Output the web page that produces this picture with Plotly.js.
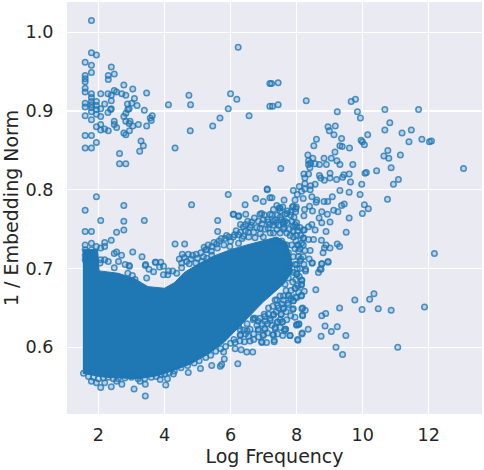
<!DOCTYPE html>
<html><head><meta charset="utf-8">
<script src="https://cdn.plot.ly/plotly-3.0.1.min.js"></script>
<style>html,body{margin:0;padding:0;background:#fff}</style></head>
<body><div id="chart" style="width:484px;height:470px"></div>
<script>
// Values. [log frequency, 1/embedding norm]
const topLeft = [[1.79,1.015],[1.79,.974],[1.94,.971],[1.60,.962],[1.79,.958],[2.39,.956],[1.79,.949],[2.30,.945],[2.48,.947],[2.30,.940],[1.60,.945],[1.60,.941],[1.60,.937],[1.60,.929],[1.60,.924],[1.79,.922],[1.79,.917],[2.07,.922],[2.29,.922],[2.39,.920],[2.48,.926],[2.55,.924],[2.71,.922],[2.83,.920],[2.77,.933],[3.04,.928],[3.46,.923],[3.09,.916],[2.39,.913],[3.01,.910],[2.88,.909],[3.17,.907],[2.93,.903],[2.89,.902],[3.39,.901],[2.83,.897],[2.77,.893],[2.83,.887],[2.96,.887],[2.93,.884],[3.04,.881],[3.21,.883],[3.46,.881],[3.63,.894],[3.57,.891],[3.60,.888],[1.60,.910],[1.60,.905],[1.79,.912],[1.79,.908],[1.79,.904],[1.79,.899],[1.94,.912],[1.94,.907],[1.94,.902],[1.94,.896],[2.07,.903],[2.19,.909],[2.39,.903],[2.37,.902],[2.29,.898],[2.07,.893],[1.60,.894],[1.79,.889],[1.94,.880],[2.07,.883],[2.07,.876],[2.19,.877],[2.30,.875],[2.48,.887],[2.48,.883],[2.55,.879],[2.77,.872],[2.83,.870],[2.94,.875],[1.60,.869],[1.79,.869],[1.94,.860],[1.60,.853],[1.79,.853],[3.29,.862],[3.36,.856],[3.25,.849],[2.64,.846],[2.64,.833],[2.83,.833]];
const topMiddle = [[6.23,.981],[4.12,.908],[4.74,.920],[4.79,.908],[4.78,.875],[4.32,.853],[5.46,.881],[5.68,.891],[5.93,.903],[6.00,.922],[6.19,.915],[6.56,.894],[7.19,.935],[7.19,.906],[5.93,.794],[6.44,.781],[6.76,.789],[6.99,.785],[7.11,.801],[7.19,.790],[4.82,.781],[2.77,.780],[1.94,.791],[1.60,.774]];
const upperRight = [[7.24,.935],[7.44,.936],[7.27,.906],[7.44,.908],[8.29,.913],[9.65,.912],[9.78,.915],[9.23,.899],[9.84,.899],[10.67,.902],[11.69,.902],[9.93,.891],[10.82,.885],[8.95,.880],[9.17,.881],[8.99,.875],[9.13,.870],[10.67,.876],[10.15,.870],[11.19,.872],[11.47,.876],[8.60,.864],[9.36,.865],[9.95,.863],[9.99,.861],[10.05,.857],[11.40,.861],[11.79,.864],[12.02,.861],[12.08,.862],[8.52,.856],[9.31,.856],[9.38,.855],[9.60,.853],[9.16,.848],[10.76,.850],[10.64,.843],[10.79,.840],[11.14,.844],[8.34,.844],[8.49,.840],[8.83,.840],[9.05,.840],[9.22,.837],[9.31,.832],[8.36,.837],[8.42,.834],[8.36,.832],[8.56,.833],[8.69,.832],[8.90,.832],[9.70,.832],[8.40,.828],[7.52,.827],[10.86,.828],[13.05,.827],[10.42,.824],[10.07,.821],[10.11,.822],[8.22,.820],[8.36,.820],[8.69,.818],[8.73,.815],[8.84,.812],[9.01,.821],[9.01,.815],[9.21,.813],[9.39,.816],[9.43,.819],[9.59,.820],[9.63,.810],[11.08,.813],[10.93,.807],[9.97,.807],[8.25,.815],[8.25,.808],[8.56,.807],[8.42,.805],[8.08,.804],[7.90,.799],[8.25,.801],[8.41,.800],[8.15,.798],[8.02,.794],[9.31,.799],[9.59,.797],[9.92,.794],[8.46,.791],[7.25,.790],[7.62,.787],[7.95,.787],[8.20,.789],[8.61,.787],[9.08,.791],[10.75,.788],[8.83,.785],[8.94,.785],[8.59,.784],[9.44,.782],[9.36,.780],[10.05,.781],[10.17,.776],[9.12,.774],[9.25,.772],[9.99,.770],[9.59,.764],[7.40,.780],[7.50,.777],[7.87,.778],[7.99,.778],[8.39,.779],[8.24,.775],[8.48,.773],[8.76,.772],[8.93,.769],[8.22,.767],[8.68,.764],[9.01,.759],[8.76,.758],[9.50,.746],[8.89,.747],[8.56,.749],[8.46,.756],[8.36,.753],[8.23,.749],[8.00,.758],[7.70,.770],[7.60,.759],[7.90,.753],[8.75,.736],[8.51,.737],[8.36,.737],[8.21,.739],[8.03,.730],[8.20,.730],[8.89,.730],[9.23,.731],[9.30,.728],[9.01,.726],[8.84,.726],[8.41,.723],[8.25,.723],[8.80,.720],[12.17,.719],[8.38,.712],[8.47,.707],[8.20,.715],[8.95,.709],[8.76,.706],[8.10,.710],[8.27,.699],[8.71,.699]];
const lowerRight = [[10.34,.668],[10.21,.661],[9.76,.660],[9.30,.650],[9.98,.648],[10.47,.649],[10.86,.647],[11.87,.651],[8.88,.643],[8.76,.640],[8.58,.673],[8.26,.647],[8.16,.649],[8.18,.640],[8.35,.623],[8.06,.629],[8.00,.628],[8.86,.627],[9.23,.626],[9.05,.620],[8.74,.614],[9.49,.615],[8.16,.617],[8.04,.609],[9.19,.600],[9.39,.591],[11.06,.600],[7.80,.615],[7.32,.607],[6.95,.606],[7.28,.616],[7.67,.623],[7.63,.621],[7.50,.625],[7.35,.624],[7.42,.632],[7.56,.632],[7.88,.648],[7.75,.654],[7.60,.649],[7.45,.650],[7.53,.642],[7.30,.641],[7.20,.637],[7.90,.659],[8.00,.663],[8.14,.665],[8.23,.671],[7.96,.675],[8.14,.679],[8.16,.685],[7.97,.686],[8.01,.693],[8.27,.697],[8.66,.695],[8.74,.699],[8.76,.706],[8.95,.708],[8.47,.707],[7.77,.665],[7.35,.660],[7.04,.624],[6.99,.615],[6.84,.622],[6.69,.635],[7.04,.639],[6.89,.637],[7.60,.660],[8.0,.693],[8.15,.685],[8.15,.680],[7.95,.675],[8.15,.666],[7.97,.664],[7.75,.666],[7.9,.659],[7.73,.656],[7.43,.653],[7.9,.649],[7.6,.650],[7.3,.642],[7.15,.642],[7.02,.642],[7.53,.642],[8.18,.650],[8.18,.641],[7.42,.632],[7.57,.632],[7.2,.634],[7.04,.633],[6.84,.633],[6.69,.637],[8.0,.629],[8.07,.630],[7.35,.625],[7.65,.623],[6.84,.623],[7.04,.623],[6.59,.623],[6.29,.623],[6.24,.627],[6.99,.616],[7.3,.616],[7.8,.615],[8.17,.618],[6.54,.614],[6.29,.616],[6.94,.607],[7.32,.609],[8.03,.610],[6.14,.606],[6.42,.607],[6.59,.608],[6.74,.637],[7.75,.688],[7.65,.680],[7.8,.697],[8.0,.705],[7.57,.688]];
const upperRim = [[1.60,.747],[1.79,.747],[2.07,.761],[2.77,.760],[3.39,.761],[5.61,.761],[5.61,.747],[6.08,.769],[6.25,.767],[6.46,.769],[6.89,.769],[2.55,.746],[2.77,.749],[2.39,.736],[2.19,.733],[4.32,.731],[4.61,.731],[3.04,.721],[3.32,.715],[2.48,.719],[2.55,.721],[2.70,.717],[2.61,.709],[2.81,.705],[2.94,.703],[3.42,.704],[3.72,.708],[3.89,.708],[2.48,.701],[7.11,.800],[7.47,.777],[7.90,.779],[7.97,.776],[6.09,.769],[6.24,.766],[6.94,.770],[7.20,.769],[7.72,.773],[7.65,.769],[7.97,.772],[7.35,.762],[7.50,.765],[6.84,.760],[6.64,.759],[6.46,.756],[6.39,.753],[6.99,.762],[7.30,.760],[7.14,.759],[7.60,.757],[7.95,.756],[6.89,.751],[7.14,.751],[6.59,.752],[6.24,.743],[6.12,.743],[5.95,.740],[5.83,.738],[5.65,.735],[5.58,.731],[6.54,.746],[6.99,.740],[6.39,.741],[6.74,.739],[8.0,.753],[8.2,.749],[8.2,.738],[8.05,.730],[5.28,.724],[5.43,.728],[5.98,.728],[6.24,.732],[4.54,.718],[4.72,.718],[4.96,.718],[5.25,.724],[5.18,.715],[2.93,.704],[3.43,.705],[3.74,.708],[4.52,.707],[4.67,.709],[5.43,.717],[4.8,.712],[3.97,.703],[3.85,.702],[3.53,.699],[4.12,.697],[4.25,.697],[4.37,.694],[3.97,.692],[4.52,.701],[3.46,.688],[3.67,.696],[3.03,.691],[2.89,.694],[3.11,.686],[4.10,.692],[4.95,.707],[5.13,.709],[5.28,.713],[1.60,.730],[1.79,.732],[1.94,.728],[2.07,.726],[2.19,.728],[2.07,.711],[2.19,.711],[2.30,.709],[2.05,.707],[1.60,.724],[1.79,.724],[1.60,.717],[1.79,.715],[1.60,.711],[7.3,.745],[7.4,.750],[7.5,.745],[7.6,.750],[7.7,.745],[7.8,.742],[7.9,.740],[8.0,.742],[7.35,.735],[7.55,.735],[7.7,.730],[7.85,.730],[7.95,.725],[8.1,.725],[7.75,.720],[7.9,.715],[8.05,.715],[7.8,.705],[7.95,.705],[8.1,.700],[7.45,.755],[7.65,.760],[7.3,.755],[7.85,.760]];
const midBand = [[4.45,.712],[4.6,.714],[4.75,.706],[4.85,.717],[5.0,.713],[5.1,.72],[5.2,.727],[5.32,.73],[5.42,.722],[5.5,.733],[5.6,.726],[5.72,.738],[5.8,.73],[5.88,.742],[6.0,.735],[6.08,.74],[6.17,.748],[6.3,.746],[6.35,.738],[6.45,.748],[6.55,.74],[6.62,.755],[6.7,.746],[6.8,.752],[6.9,.744],[6.95,.757],[7.05,.75],[7.12,.762],[7.2,.745],[7.25,.768],[7.38,.758],[7.42,.768],[7.55,.762],[7.62,.752],[7.72,.758],[7.78,.75],[7.82,.768],[7.9,.748],[7.98,.735],[8.03,.748],[8.12,.742],[8.15,.732],[8.1,.752],[7.92,.765],[6.3,.756],[6.52,.76],[6.72,.764],[7.02,.768],[7.18,.756],[7.5,.773],[7.3,.775],[7.58,.778],[7.83,.772],[8.06,.722],[8.13,.712],[8.22,.705],[8.02,.7],[7.9,.695],[8.08,.69],[7.88,.683],[8.04,.678],[7.83,.672],[8.06,.67],[7.82,.662],[7.68,.672],[7.6,.665],[7.5,.665],[7.4,.66],[7.55,.655],[7.28,.652],[7.15,.65],[7.68,.645],[7.82,.64],[7.95,.638],[7.7,.635],[7.38,.645],[7.25,.628],[7.12,.63],[6.95,.63],[6.8,.628],[7.5,.635],[7.12,.618],[7.42,.617],[7.58,.615],[6.7,.617],[6.85,.613],[6.45,.617],[6.7,.61],[6.28,.608],[6.5,.621]];
const lowerRim = [[1.79,.557],[1.94,.555],[2.07,.549],[2.19,.555],[2.39,.550],[2.55,.557],[2.71,.553],[3.08,.547],[3.42,.553],[3.42,.538],[4.04,.552],[4.09,.560],[3.87,.559],[3.26,.557],[4.27,.566],[4.72,.568],[5.09,.573],[5.43,.577],[5.69,.576],[5.73,.578],[5.81,.585],[6.22,.579],[6.67,.594],[6.49,.594],[6.32,.597],[6.14,.598],[5.79,.594],[7.09,.606],[1.55,.567],[1.7,.563],[1.85,.562],[2.0,.560],[2.15,.561],[2.3,.562],[2.45,.560],[2.6,.560],[2.8,.561],[3.0,.562],[3.2,.560],[3.4,.560],[3.6,.562],[3.75,.563],[3.9,.565],[4.0,.566],[4.15,.568],[4.3,.570],[4.5,.574],[4.7,.577],[4.9,.580],[5.05,.583],[5.25,.587],[5.4,.590],[5.55,.595],[5.7,.598],[5.85,.601],[6.0,.605],[6.1,.610],[6.3,.615],[6.4,.622],[6.5,.630]];
// The core of the cloud is fully saturated in the reference, so individual points
// cannot be read there: it is drawn as a region bounded by the edge.
const coreTopX = [1.53,1.98,2.02,2.6,3.1,3.5,4.0,4.3,4.6,5.0,5.5,6.0,6.5,7.0,7.4,7.7,7.85];
const coreTopY = [.724,.724,.697,.694,.687,.677,.675,.682,.695,.705,.716,.724,.730,.736,.74,.733,.71];
const coreBottomX = [7.85,7.6,7.0,6.6,6.2,5.8,5.3,4.8,4.3,3.8,3.2,2.2,1.53];
const coreBottomY = [.695,.68,.658,.641,.624,.606,.591,.579,.571,.564,.560,.562,.567];

const points = [...topLeft,...topMiddle,...upperRight,...lowerRight,...upperRim,...midBand,...lowerRim];
const blue = '#1f77b4';
Plotly.newPlot('chart',[
 {type:'scatter',mode:'lines',x:[...coreTopX,...coreBottomX],y:[...coreTopY,...coreBottomY],
  fill:'toself',fillcolor:blue,line:{color:blue,width:1},hoverinfo:'skip'},
 {type:'scatter',mode:'markers',x:points.map(p=>p[0]),y:points.map(p=>p[1]),
  marker:{symbol:'circle',size:5.5,color:'rgba(31,119,180,0.22)',line:{color:'rgba(31,119,180,0.78)',width:1.5}}}
],{
 width:484,height:470,showlegend:false,paper_bgcolor:'#fff',plot_bgcolor:'#eaeaf2',
 margin:{l:67,r:2,t:2,b:55.5},
 font:{family:'DejaVu Sans',color:'#262626'},
 xaxis:{range:[1.05,13.61],tickvals:[2,4,6,8,10,12],ticktext:['2','4','6','8','10','12'],showgrid:true,gridcolor:'#fff',gridwidth:1.3,zeroline:false,showline:false,ticks:'outside',ticklen:5,tickcolor:'rgba(0,0,0,0)',tickfont:{size:17.6,color:'#262626'},title:{text:'Log Frequency',font:{size:19,color:'#262626'},standoff:5}},
 yaxis:{range:[.5153,1.0384],tickvals:[.6,.7,.8,.9,1.0],ticktext:['0.6','0.7','0.8','0.9','1.0'],showgrid:true,gridcolor:'#fff',gridwidth:1.3,zeroline:false,showline:false,ticks:'outside',ticklen:9,tickcolor:'rgba(0,0,0,0)',tickfont:{size:17.6,color:'#262626'},title:{text:'1 / Embedding Norm',font:{size:19,color:'#262626'},standoff:6}}
},{displayModeBar:false,staticPlot:true});
</script></body></html>
